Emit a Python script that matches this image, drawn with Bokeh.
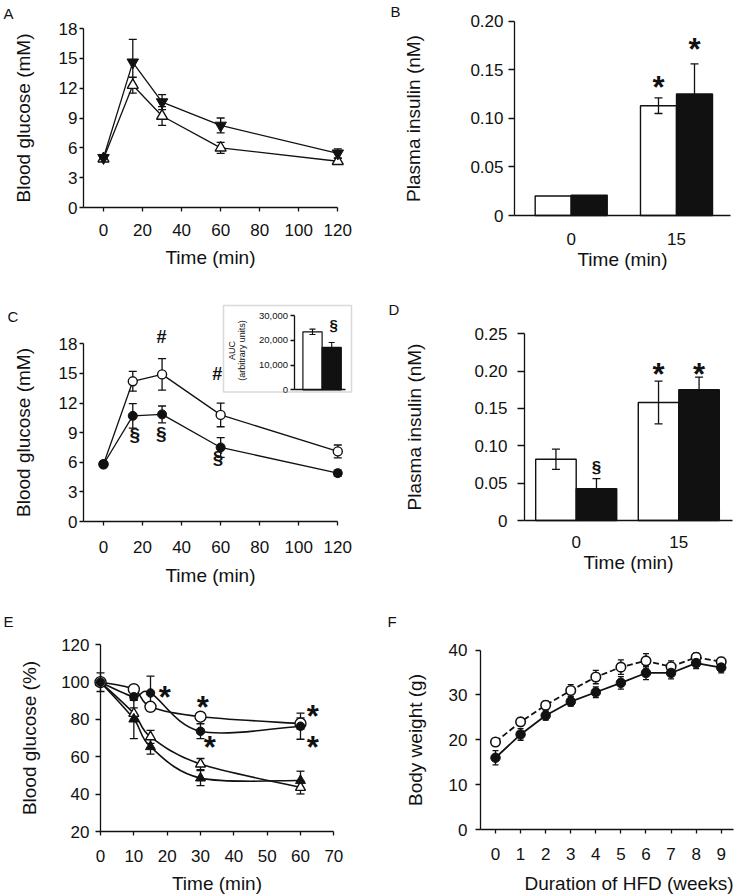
import math
from bokeh.plotting import figure
from bokeh.models import (Range1d, FixedTicker, LinearAxis, Whisker, TeeHead, ColumnDataSource,
                          Label, BoxAnnotation, NumeralTickFormatter)
from bokeh.layouts import column, row
from bokeh.embed import file_html
from bokeh.resources import INLINE
from bokeh.core.properties import value

FONT = "Liberation Sans"
INK = "#111111"

# ---------------- data ----------------
# A: glucose tolerance (mM)
t_a = [0, 15, 30, 60, 120]
a_open = [4.9, 12.3, 9.2, 6.0, 4.65]
a_open_err = [0.2, 0.8, 0.95, 0.55, 0.3]
a_filled = [5.0, 14.6, 10.6, 8.25, 5.45]
a_filled_err = [0.2, 2.3, 0.75, 0.75, 0.45]
a_xticks = [0, 20, 40, 60, 80, 100, 120]
a_yticks = [0, 3, 6, 9, 12, 15, 18]

# B: plasma insulin (nM)
b_groups = ["0", "15"]
b_open = [0.020, 0.113]
b_open_err = [0.0, 0.008]
b_filled = [0.021, 0.125]
b_filled_err = [0.0, 0.031]
b_yticks = [0, 0.05, 0.10, 0.15, 0.20]
b_ylabels = ["0", "0.05", "0.10", "0.15", "0.20"]
b_star_y = [0.139, 0.178]

# C: glucose tolerance (mM) + AUC inset
t_c = [0, 15, 30, 60, 120]
c_open = [5.8, 14.2, 14.9, 10.8, 7.1]
c_open_err = [0.2, 1.0, 1.6, 1.2, 0.65]
c_filled = [5.8, 10.7, 10.85, 7.5, 4.9]
c_filled_err = [0.2, 1.25, 0.85, 1.0, 0.3]
c_hash_x = [29.7, 58.3]
c_hash_y = [18.7, 14.9]
c_sect_x = [16.0, 29.6, 58.6]
c_sect_y = [8.7, 8.85, 6.4]
auc = [23400, 17100]
auc_err = [1100, 2000]
auc_ticks = [0, 10000, 20000, 30000]
auc_sect_y = 25900

# D: plasma insulin (nM)
d_groups = ["0", "15"]
d_open = [0.082, 0.158]
d_open_err = [0.0135, 0.0285]
d_filled = [0.0425, 0.175]
d_filled_err = [0.0135, 0.017]
d_yticks = [0, 0.05, 0.10, 0.15, 0.20, 0.25]
d_ylabels = ["0", "0.05", "0.10", "0.15", "0.20", "0.25"]
d_star_y = [0.205, 0.205]
d_sect_y = 0.069

# E: insulin tolerance (% of baseline)
t_e = [0, 10, 15, 30, 60]
e_open_c = [100, 96.2, 86.8, 81.5, 77.8]
e_open_c_err = [0, 1.5, 1.5, 2.0, 3.0]
e_filled_c = [100, 92.2, 94.2, 73.7, 76.4]
e_filled_c_err = [0, 2.0, 9.0, 4.0, 7.0]
e_open_t = [100, 83.2, 70.7, 56.1, 43.6]
e_open_t_err = [0, 3.0, 3.5, 3.0, 3.5]
e_filled_t = [100, 80.2, 65.4, 48.6, 47.3]
e_filled_t_err = [5.0, 10.5, 4.0, 4.0, 5.0]
e_star_x = [19.3, 30.7, 32.8, 63.7, 63.7]
e_star_y = [95.4, 90.4, 68.6, 85.6, 68.6]
e_xticks = [0, 10, 20, 30, 40, 50, 60, 70]
e_yticks = [20, 40, 60, 80, 100, 120]

# F: body weight (g)
weeks = [0, 1, 2, 3, 4, 5, 6, 7, 8, 9]
f_open = [19.5, 24.0, 27.7, 31.0, 34.0, 36.2, 37.6, 36.3, 38.4, 37.4]
f_open_err = [0.8, 0.9, 1.0, 1.3, 1.5, 1.6, 1.6, 1.3, 1.0, 1.0]
f_filled = [16.0, 21.2, 25.4, 28.5, 30.6, 32.7, 34.9, 34.9, 37.1, 36.1]
f_filled_err = [1.6, 1.3, 1.0, 1.0, 1.2, 1.4, 1.5, 1.3, 1.2, 1.2]
f_yticks = [0, 10, 20, 30, 40]


# ---------------- helpers ----------------
def make_panel(ox, oy, w, h, xpx, xv, xs, ypx, yv, ys):
    """Figure whose frame fills the whole canvas; (xpx, ypx) page pixel maps to (xv, yv)."""
    x0 = xv + (ox - xpx) / xs
    x1 = xv + (ox + w - xpx) / xs
    y0 = yv + (ypx - (oy + h)) / ys
    y1 = yv + (ypx - oy) / ys
    p = figure(width=w, height=h, x_range=Range1d(x0, x1), y_range=Range1d(y0, y1),
               min_border=0, min_border_left=0, min_border_right=0, min_border_top=0,
               min_border_bottom=0, x_axis_type=None, y_axis_type=None,
               output_backend="svg", toolbar_location=None)
    p.outline_line_color = None
    p.background_fill_color = "white"
    p.border_fill_color = "white"

    def to_data(px, py=0):
        return xv + (px - xpx) / xs, yv + (ypx - py) / ys
    return p, to_data


def add_axis(p, side, ticks, loc, labels=None, label="", bounds=None, tick_out=4, standoff=2,
             label_standoff=10, tick_font="17px", label_font="19px", formatter=None, **kw):
    ax = LinearAxis(ticker=FixedTicker(ticks=ticks), axis_label=label, fixed_location=loc, **kw)
    if formatter is not None:
        ax.formatter = formatter
    if labels is not None:
        ax.major_label_overrides = {t: l for t, l in zip(ticks, labels)}
    ax.axis_line_color = INK
    ax.axis_line_width = 1.3
    ax.major_tick_line_color = INK
    ax.major_tick_line_width = 1.3
    ax.major_tick_in = 0
    ax.major_tick_out = tick_out
    ax.minor_tick_line_color = None
    ax.major_label_text_font = FONT
    ax.major_label_text_font_size = tick_font
    ax.major_label_text_color = INK
    ax.axis_label_text_font = FONT
    ax.axis_label_text_font_size = label_font
    ax.axis_label_text_font_style = "normal"
    ax.axis_label_text_color = INK
    ax.major_label_standoff = standoff
    ax.axis_label_standoff = label_standoff
    if bounds is not None:
        ax.bounds = bounds
    p.add_layout(ax, side)
    return ax


def page_label(p, to_data, txt, px, py, size="15px", align="left"):
    x, y = to_data(px, py)
    p.add_layout(Label(x=x, y=y, text=txt, text_font=FONT, text_font_size=size,
                       text_baseline="top", text_align=align, text_color=INK))


def whisk(p, xs, ys, errs, level="underlay", size=8, width=1.3, **kw):
    src = ColumnDataSource(dict(x=xs, upper=[a + b for a, b in zip(ys, errs)],
                                lower=[a - b for a, b in zip(ys, errs)]))
    w = Whisker(source=src, base="x", upper="upper", lower="lower", level=level,
                line_color=INK, line_width=width,
                upper_head=TeeHead(size=size, line_color=INK, line_width=width),
                lower_head=TeeHead(size=size, line_color=INK, line_width=width), **kw)
    p.add_layout(w)


def symbols(p, xs, ys, txt, size, yoff=0, **kw):
    p.text(x=xs, y=ys, text=[txt] * len(xs), text_font=value(FONT), text_font_size=size,
           text_font_style="bold", text_align="center", text_baseline="middle",
           text_color=INK, y_offset=yoff, **kw)


def catmull(xs, ys):
    n = len(xs)
    P = list(zip(xs, ys))
    out = dict(x0=[], y0=[], x1=[], y1=[], cx0=[], cy0=[], cx1=[], cy1=[])
    for i in range(n - 1):
        p0 = P[i - 1] if i > 0 else P[i]
        p1, p2 = P[i], P[i + 1]
        p3 = P[i + 2] if i + 2 < n else P[i + 1]
        out["x0"].append(p1[0]); out["y0"].append(p1[1])
        out["x1"].append(p2[0]); out["y1"].append(p2[1])
        out["cx0"].append(p1[0] + (p2[0] - p0[0]) / 6.0)
        out["cy0"].append(p1[1] + (p2[1] - p0[1]) / 6.0)
        out["cx1"].append(p2[0] - (p3[0] - p1[0]) / 6.0)
        out["cy1"].append(p2[1] - (p3[1] - p1[1]) / 6.0)
    return out


# ---------------- Panel A ----------------
pA, dA = make_panel(0, 0, 370, 284, 103.0, 0, 1.9525, 207, 0, 9.944)
ayA = dA(83)[0]
add_axis(pA, "below", a_xticks, 0, label="Time (min)", bounds=(ayA, 120),
         tick_out=4, standoff=12, label_standoff=8)
add_axis(pA, "left", a_yticks, ayA, label="Blood glucose (mM)", bounds=(0, 18),
         tick_out=4, standoff=2, label_standoff=22)
whisk(pA, t_a, a_open, a_open_err)
whisk(pA, t_a, a_filled, a_filled_err)
pA.line(t_a, a_open, line_color=INK, line_width=1.3)
pA.line(t_a, a_filled, line_color=INK, line_width=1.3)
pA.scatter(t_a, a_open, marker="triangle", size=11, fill_color="white", line_color=INK, line_width=1.4)
pA.scatter(t_a, a_filled, marker="inverted_triangle", size=11.5, fill_color=INK, line_color=INK)
page_label(pA, dA, "A", 3, 4)

# ---------------- Panel B ----------------
pB, dB = make_panel(370, 0, 365, 284, 570.7, 0, 105.3, 215, 0, 971.5)
gx_b = list(range(len(b_groups)))
bw_b = 0.342
ayB = dB(514)[0]
add_axis(pB, "below", gx_b, 0, labels=b_groups, label="Time (min)", bounds=(ayB, dB(730)[0]),
         tick_out=0, standoff=17, label_standoff=1)
add_axis(pB, "left", b_yticks, ayB, labels=b_ylabels, label="Plasma insulin (nM)", bounds=(0, 0.2),
         tick_out=6, standoff=5, label_standoff=43)
xo_b = [g - bw_b / 2 for g in gx_b]
xf_b = [g + bw_b / 2 for g in gx_b]
pB.vbar(x=xo_b, top=b_open, width=bw_b, bottom=0, fill_color="white", line_color=INK, line_width=1.4)
pB.vbar(x=xf_b, top=b_filled, width=bw_b, bottom=0, fill_color=INK, line_color=INK, line_width=1.4)
whisk(pB, xo_b[1:], b_open[1:], b_open_err[1:], level="overlay")
whisk(pB, xf_b[1:], b_filled[1:], b_filled_err[1:], level="overlay")
symbols(pB, [xo_b[1], xf_b[1]], b_star_y, "*", "31px", yoff=7)
page_label(pB, dB, "B", 390, 2)

# ---------------- Panel C ----------------
pC, dC = make_panel(0, 284, 370, 304, 103.0, 0, 1.9525, 521, 0, 9.872)
ayC = dC(83)[0]
add_axis(pC, "below", a_xticks, 0, label="Time (min)", bounds=(ayC, 120),
         tick_out=4, standoff=15, label_standoff=9)
add_axis(pC, "left", a_yticks, ayC, label="Blood glucose (mM)", bounds=(0, 18),
         tick_out=4, standoff=2, label_standoff=22)
whisk(pC, t_c, c_open, c_open_err)
whisk(pC, t_c, c_filled, c_filled_err)
pC.line(t_c, c_open, line_color=INK, line_width=1.3)
pC.line(t_c, c_filled, line_color=INK, line_width=1.3)
pC.scatter(t_c, c_open, marker="circle", size=9, fill_color="white", line_color=INK, line_width=1.4)
pC.scatter(t_c, c_filled, marker="circle", size=9, fill_color=INK, line_color=INK)
symbols(pC, c_hash_x, c_hash_y, "#", "18px")
symbols(pC, c_sect_x, c_sect_y, "\u00a7", "19px", yoff=-1)
page_label(pC, dC, "C", 7, 307)

# inset (AUC) drawn in its own ranges inside panel C
IX0, IXS = 312.0, 19.2            # page x of first bar centre, px per bar
IY0, IYS = 389.3, 74.3 / 30000.0  # page y of 0, px per unit
pC.extra_x_ranges = {"ix": Range1d((0 - IX0) / IXS, (370 - IX0) / IXS)}
pC.extra_y_ranges = {"iy": Range1d((IY0 - 588) / IYS, (IY0 - 284) / IYS)}
ins_axis_x = (293.5 - IX0) / IXS
pC.add_layout(BoxAnnotation(left=(223 - IX0) / IXS, right=(351 - IX0) / IXS,
                            top=(IY0 - 305) / IYS, bottom=(IY0 - 391.5) / IYS,
                            x_range_name="ix", y_range_name="iy",
                            fill_alpha=0, line_color="#808080", line_width=1.5))
add_axis(pC, "left", auc_ticks, ins_axis_x, formatter=NumeralTickFormatter(format="0,0"),
         bounds=(0, 30000), tick_out=4, standoff=2, tick_font="9.5px",
         x_range_name="ix", y_range_name="iy")
add_axis(pC, "below", [], 0, bounds=(ins_axis_x, (345 - IX0) / IXS), tick_out=0, tick_font="1px",
         x_range_name="ix", y_range_name="iy")
ix_bars = [0, 1]
pC.vbar(x=ix_bars, top=auc, width=1.0, bottom=0, fill_color=["white", INK], line_color=INK,
        line_width=1.2, x_range_name="ix", y_range_name="iy")
whisk(pC, ix_bars, auc, auc_err, level="overlay", size=6, width=1.1,
      x_range_name="ix", y_range_name="iy")
pC.text(x=[(231.7 - IX0) / IXS, (241.0 - IX0) / IXS], y=[(IY0 - 350) / IYS] * 2,
        text=["AUC", "(arbitrary units)"], angle=math.pi / 2, text_font=value(FONT),
        text_font_size="9px", text_align="center", text_baseline="middle", text_color=INK,
        x_range_name="ix", y_range_name="iy")
symbols(pC, [1.1], [auc_sect_y], "\u00a7", "15px", yoff=-1, x_range_name="ix", y_range_name="iy")

# ---------------- Panel D ----------------
pD, dD = make_panel(370, 284, 365, 304, 575.7, 0, 102.6, 520, 0, 746.8)
gx_d = list(range(len(d_groups)))
bw_d = 0.395
ayD = dD(524)[0]
add_axis(pD, "below", gx_d, 0, labels=d_groups, label="Time (min)", bounds=(ayD, dD(731.7)[0]),
         tick_out=0, standoff=15, label_standoff=1)
add_axis(pD, "left", d_yticks, ayD, labels=d_ylabels, label="Plasma insulin (nM)", bounds=(0, 0.25),
         tick_out=7, standoff=10, label_standoff=46)
xo_d = [g - bw_d / 2 for g in gx_d]
xf_d = [g + bw_d / 2 for g in gx_d]
pD.vbar(x=xo_d, top=d_open, width=bw_d, bottom=0, fill_color="white", line_color=INK, line_width=1.4)
pD.vbar(x=xf_d, top=d_filled, width=bw_d, bottom=0, fill_color=INK, line_color=INK, line_width=1.4)
whisk(pD, xo_d, d_open, d_open_err, level="overlay")
whisk(pD, xf_d, d_filled, d_filled_err, level="overlay")
symbols(pD, [xo_d[1], xf_d[1]], d_star_y, "*", "31px", yoff=7)
symbols(pD, [xf_d[0]], [d_sect_y], "\u00a7", "17px", yoff=-1)
page_label(pD, dD, "D", 388, 300)

# ---------------- Panel E ----------------
pE, dE = make_panel(0, 588, 370, 307, 100.0, 0, 3.3333, 831, 20, 1.867)
add_axis(pE, "below", e_xticks, 20, label="Time (min)", bounds=(0, 70),
         tick_out=4, standoff=14, label_standoff=8)
add_axis(pE, "left", e_yticks, 0, label="Blood glucose (%)", bounds=(20, 120),
         tick_out=5, standoff=6, label_standoff=18)
whisk(pE, t_e, e_open_t, e_open_t_err)
whisk(pE, t_e, e_filled_t, e_filled_t_err)
whisk(pE, t_e, e_open_c, e_open_c_err)
whisk(pE, t_e, e_filled_c, e_filled_c_err)
for ys_ in (e_open_t, e_filled_t, e_open_c, e_filled_c):
    pE.bezier(source=ColumnDataSource(catmull(t_e, ys_)), x0="x0", y0="y0", x1="x1", y1="y1",
              cx0="cx0", cy0="cy0", cx1="cx1", cy1="cy1", line_color=INK, line_width=1.6)
pE.scatter(t_e, e_open_t, marker="triangle", size=10, fill_color="white", line_color=INK, line_width=1.4)
pE.scatter(t_e, e_filled_t, marker="triangle", size=10, fill_color=INK, line_color=INK)
pE.scatter(t_e, e_open_c, marker="circle", size=11, fill_color="white", line_color=INK, line_width=1.4)
pE.scatter(t_e, e_filled_c, marker="circle", size=8.5, fill_color=INK, line_color=INK)
symbols(pE, e_star_x, e_star_y, "*", "31px", yoff=7)
page_label(pE, dE, "E", 3, 612)

# ---------------- Panel F ----------------
pF, dF = make_panel(370, 588, 365, 307, 495.0, 0, 25.08, 829, 0, 4.485)
ayF = dF(480)[0]
add_axis(pF, "below", weeks, 0, label="", bounds=(ayF, dF(733)[0]), tick_out=4, standoff=14,
         label_standoff=5)
add_axis(pF, "left", f_yticks, ayF, label="Body weight (g)", bounds=(0, 40),
         tick_out=5, standoff=8, label_standoff=20)
whisk(pF, weeks, f_open, f_open_err, size=6)
whisk(pF, weeks, f_filled, f_filled_err, size=6)
pF.line(weeks, f_open, line_color=INK, line_width=1.8, line_dash="6 3")
pF.line(weeks, f_filled, line_color=INK, line_width=1.8)
pF.scatter(weeks, f_open, marker="circle", size=9.5, fill_color="white", line_color=INK, line_width=1.6)
pF.scatter(weeks, f_filled, marker="circle", size=9.5, fill_color=INK, line_color=INK)
page_label(pF, dF, "F", 387, 612)
page_label(pF, dF, "Duration of HFD (weeks)", 733, 872, size="19px", align="right")

layout = column(row(pA, pB), row(pC, pD), row(pE, pF))
open("out.html", "w").write(file_html(layout, INLINE))
